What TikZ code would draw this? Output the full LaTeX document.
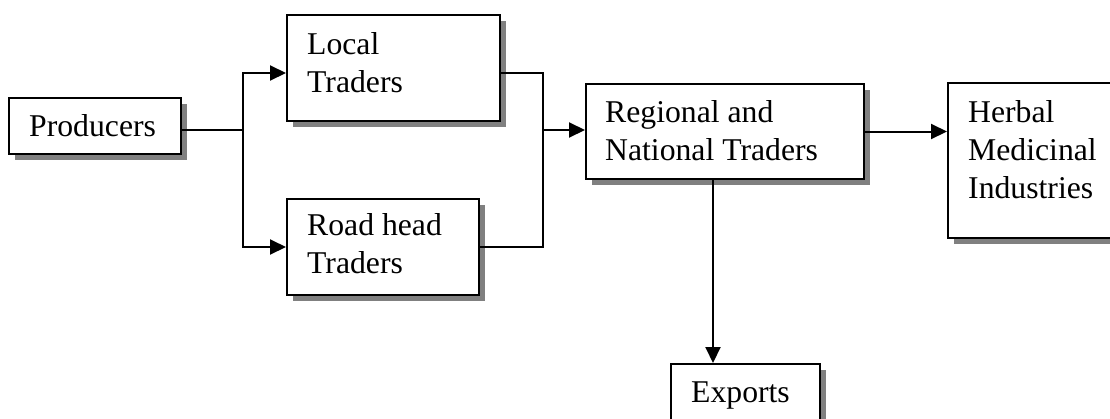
\documentclass[tikz,border=0pt]{standalone}
\usepackage{fontspec}
\setmainfont{Liberation Serif}
\usetikzlibrary{arrows.meta,shadows}
% multi-line box text, baseline on the first line
\newcommand\stacked[1]{\begin{tabular}[t]{@{}l@{}}#1\end{tabular}}
\begin{document}
\begin{tikzpicture}[x=1pt,y=-1pt,
  box/.style={draw=black,line width=2pt,fill=white,rectangle,inner sep=0pt,
    anchor=north west,
    drop shadow={shadow xshift=6pt,shadow yshift=-6pt,fill=black!50,opacity=1}},
  boxtext/.style={anchor=base west,inner sep=0pt,font=\fontsize{31.7}{38}\selectfont},
  link/.style={line width=2pt},
  arr/.style={link,-{Triangle[length=16pt,width=15pt]}}]
\useasboundingbox (0,0) rectangle (1110,418);
\clip (0,0) rectangle (1110,418);

% boxes
\node[box,minimum width=172pt,minimum height=56pt]  (prod)  at (8,97)    {};
\node[box,minimum width=213pt,minimum height=106pt] (local) at (286,14)  {};
\node[box,minimum width=192pt,minimum height=96pt]  (road)  at (286,198) {};
\node[box,minimum width=278pt,minimum height=95pt]  (reg)   at (585,83)  {};
\node[box,minimum width=190pt,minimum height=155pt] (herb)  at (947,82)  {};
\node[box,minimum width=149pt,minimum height=75pt]  (exp)   at (670,363) {};

% box texts
\node[boxtext] (prodtxt)  at ([xshift=21pt,yshift=-39pt]prod.north west)  {Producers};
\node[boxtext] (localtxt) at ([xshift=21pt,yshift=-40pt]local.north west) {\stacked{Local\\Traders}};
\node[boxtext] (roadtxt)  at ([xshift=21pt,yshift=-37pt]road.north west)  {\stacked{Road head\\Traders}};
\node[boxtext] (regtxt)   at ([xshift=20pt,yshift=-39pt]reg.north west)   {\stacked{Regional and\\National Traders}};
\node[boxtext] (herbtxt)  at ([xshift=21pt,yshift=-40pt]herb.north west)  {\stacked{Herbal\\Medicinal\\Industries}};
\node[boxtext] (exptxt)   at ([xshift=21pt,yshift=-39pt]exp.north west)   {Exports};

% connectors
\coordinate (split) at (243,130);
\coordinate (merge) at (543,130);
\coordinate (exportx) at (713,0);

\draw[link] (prod.east |- split) -- (split);
\draw[arr] (split) |- ([yshift=-5pt]local.west);
\draw[arr] (split) |- (road.west);
\draw[link] ([yshift=-5pt]local.east) -| (road.east -| merge) -- (road.east);
\draw[arr] (merge) -- (reg.west |- merge);
\draw[arr] (reg.east) -- (herb.west |- reg.east);
\draw[arr] (reg.south -| exportx) -- (exp.north -| exportx);
\end{tikzpicture}
\end{document}
